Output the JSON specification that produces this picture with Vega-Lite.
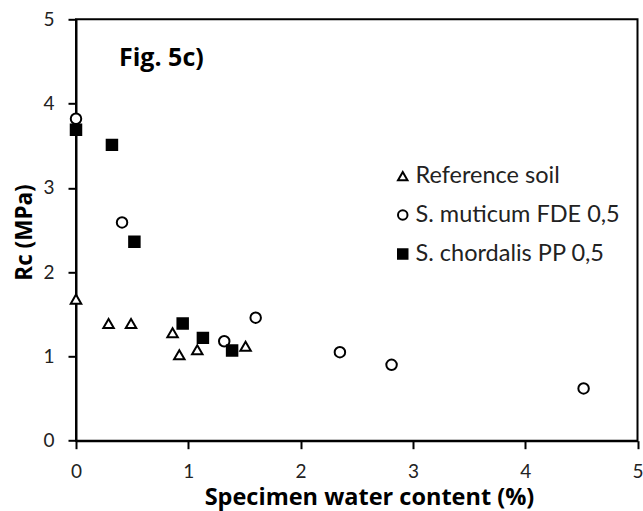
{
  "$schema": "https://vega.github.io/schema/vega-lite/v6.json",
  "autosize": {"type": "none"},
  "padding": {"left": 76, "top": 19.3, "right": 5.5, "bottom": 70.3},
  "width": 561.5,
  "height": 421.4,
  "background": "white",
  "datasets": {
    "points": [
      {"series": "Reference soil", "x": 0.0, "y": 1.68},
      {"series": "Reference soil", "x": 0.29, "y": 1.39},
      {"series": "Reference soil", "x": 0.49, "y": 1.39},
      {"series": "Reference soil", "x": 0.86, "y": 1.28},
      {"series": "Reference soil", "x": 0.92, "y": 1.02},
      {"series": "Reference soil", "x": 1.08, "y": 1.08},
      {"series": "Reference soil", "x": 1.51, "y": 1.12},
      {"series": "S. muticum FDE 0,5", "x": 0.0, "y": 3.82},
      {"series": "S. muticum FDE 0,5", "x": 0.41, "y": 2.59},
      {"series": "S. muticum FDE 0,5", "x": 1.32, "y": 1.18},
      {"series": "S. muticum FDE 0,5", "x": 1.6, "y": 1.46},
      {"series": "S. muticum FDE 0,5", "x": 2.35, "y": 1.05},
      {"series": "S. muticum FDE 0,5", "x": 2.81, "y": 0.9},
      {"series": "S. muticum FDE 0,5", "x": 4.52, "y": 0.62},
      {"series": "S. chordalis PP 0,5", "x": 0.0, "y": 3.69},
      {"series": "S. chordalis PP 0,5", "x": 0.32, "y": 3.51},
      {"series": "S. chordalis PP 0,5", "x": 0.52, "y": 2.36},
      {"series": "S. chordalis PP 0,5", "x": 0.95, "y": 1.39},
      {"series": "S. chordalis PP 0,5", "x": 1.13, "y": 1.22},
      {"series": "S. chordalis PP 0,5", "x": 1.39, "y": 1.07}
    ],
    "notes": [
      {"label": "Fig. 5c)", "x": 0.383, "y": 4.44}
    ]
  },
  "layer": [
    {
      "data": {"name": "points"},
      "mark": {"type": "point", "filled": false, "strokeWidth": 2, "size": 110, "opacity": 1},
      "encoding": {
        "x": {
          "field": "x", "type": "quantitative",
          "scale": {"domain": [0, 5], "nice": false, "zero": true},
          "axis": {
            "values": [0, 1, 2, 3, 4, 5],
            "title": "Specimen water content (%)",
            "titleX": 293,
            "titleY": 64,
            "titleBaseline": "alphabetic",
            "titleFontSize": 23.5,
            "format": "d"
          }
        },
        "y": {
          "field": "y", "type": "quantitative",
          "scale": {"domain": [0, 5], "nice": false, "zero": true},
          "axis": {
            "values": [0, 1, 2, 3, 4, 5],
            "title": "Rc (MPa)",
            "titleX": -45,
            "titleY": 212.7,
            "titleBaseline": "alphabetic",
            "titleAlign": "center",
            "titleAngle": 270,
            "titleFontSize": 22.5,
            "format": "d"
          }
        },
        "color": {
          "field": "series", "type": "nominal",
          "scale": {
            "domain": ["Reference soil", "S. muticum FDE 0,5", "S. chordalis PP 0,5"],
            "range": ["black", "black", "black"]
          },
          "legend": {
            "title": null,
            "orient": "none",
            "legendX": 315,
            "legendY": 145,
            "padding": 0,
            "rowPadding": 14,
            "symbolSize": 90,
            "symbolStrokeWidth": 2,
            "labelOffset": 1,
            "labelFont": "Lato",
            "labelFontSize": 23.5,
            "labelColor": "#222222",
            "labelLimit": 400,
            "encode": {
              "symbols": {
                "update": {
                  "fill": {"scale": "fill", "field": "value"},
                  "fillOpacity": {"value": 1}
                }
              }
            }
          }
        },
        "shape": {
          "field": "series", "type": "nominal",
          "scale": {
            "domain": ["Reference soil", "S. muticum FDE 0,5", "S. chordalis PP 0,5"],
            "range": ["triangle-up", "circle", "square"]
          },
          "legend": {
            "title": null,
            "orient": "none",
            "legendX": 315,
            "legendY": 145,
            "padding": 0,
            "rowPadding": 14,
            "symbolSize": 90,
            "symbolStrokeWidth": 2,
            "labelOffset": 1,
            "labelFont": "Lato",
            "labelFontSize": 23.5,
            "labelColor": "#222222",
            "labelLimit": 400,
            "encode": {
              "symbols": {
                "update": {
                  "fill": {"scale": "fill", "field": "value"},
                  "fillOpacity": {"value": 1}
                }
              }
            }
          }
        },
        "fill": {
          "field": "series", "type": "nominal",
          "scale": {
            "domain": ["Reference soil", "S. muticum FDE 0,5", "S. chordalis PP 0,5"],
            "range": ["white", "white", "black"]
          },
          "legend": null
        }
      }
    },
    {
      "data": {"name": "notes"},
      "mark": {"type": "text", "align": "left", "baseline": "alphabetic", "font": "Open Sans", "fontWeight": "bold", "fontSize": 25, "color": "black"},
      "encoding": {
        "x": {"field": "x", "type": "quantitative"},
        "y": {"field": "y", "type": "quantitative"},
        "text": {"field": "label", "type": "nominal"}
      }
    }
  ],
  "config": {
    "view": {"stroke": "black", "strokeWidth": 2},
    "axis": {
      "grid": false,
      "domainColor": "black",
      "domainWidth": 2,
      "tickColor": "black",
      "tickWidth": 2,
      "tickSize": 8,
      "labelFont": "Lato",
      "labelFontSize": 19,
      "labelColor": "#222222",
      "labelPadding": 14,
      "labelFlush": false,
      "labelOverlap": false,
      "titleFont": "Open Sans",
      "titleFontWeight": "bold",
      "titleColor": "black"
    }
  }
}
